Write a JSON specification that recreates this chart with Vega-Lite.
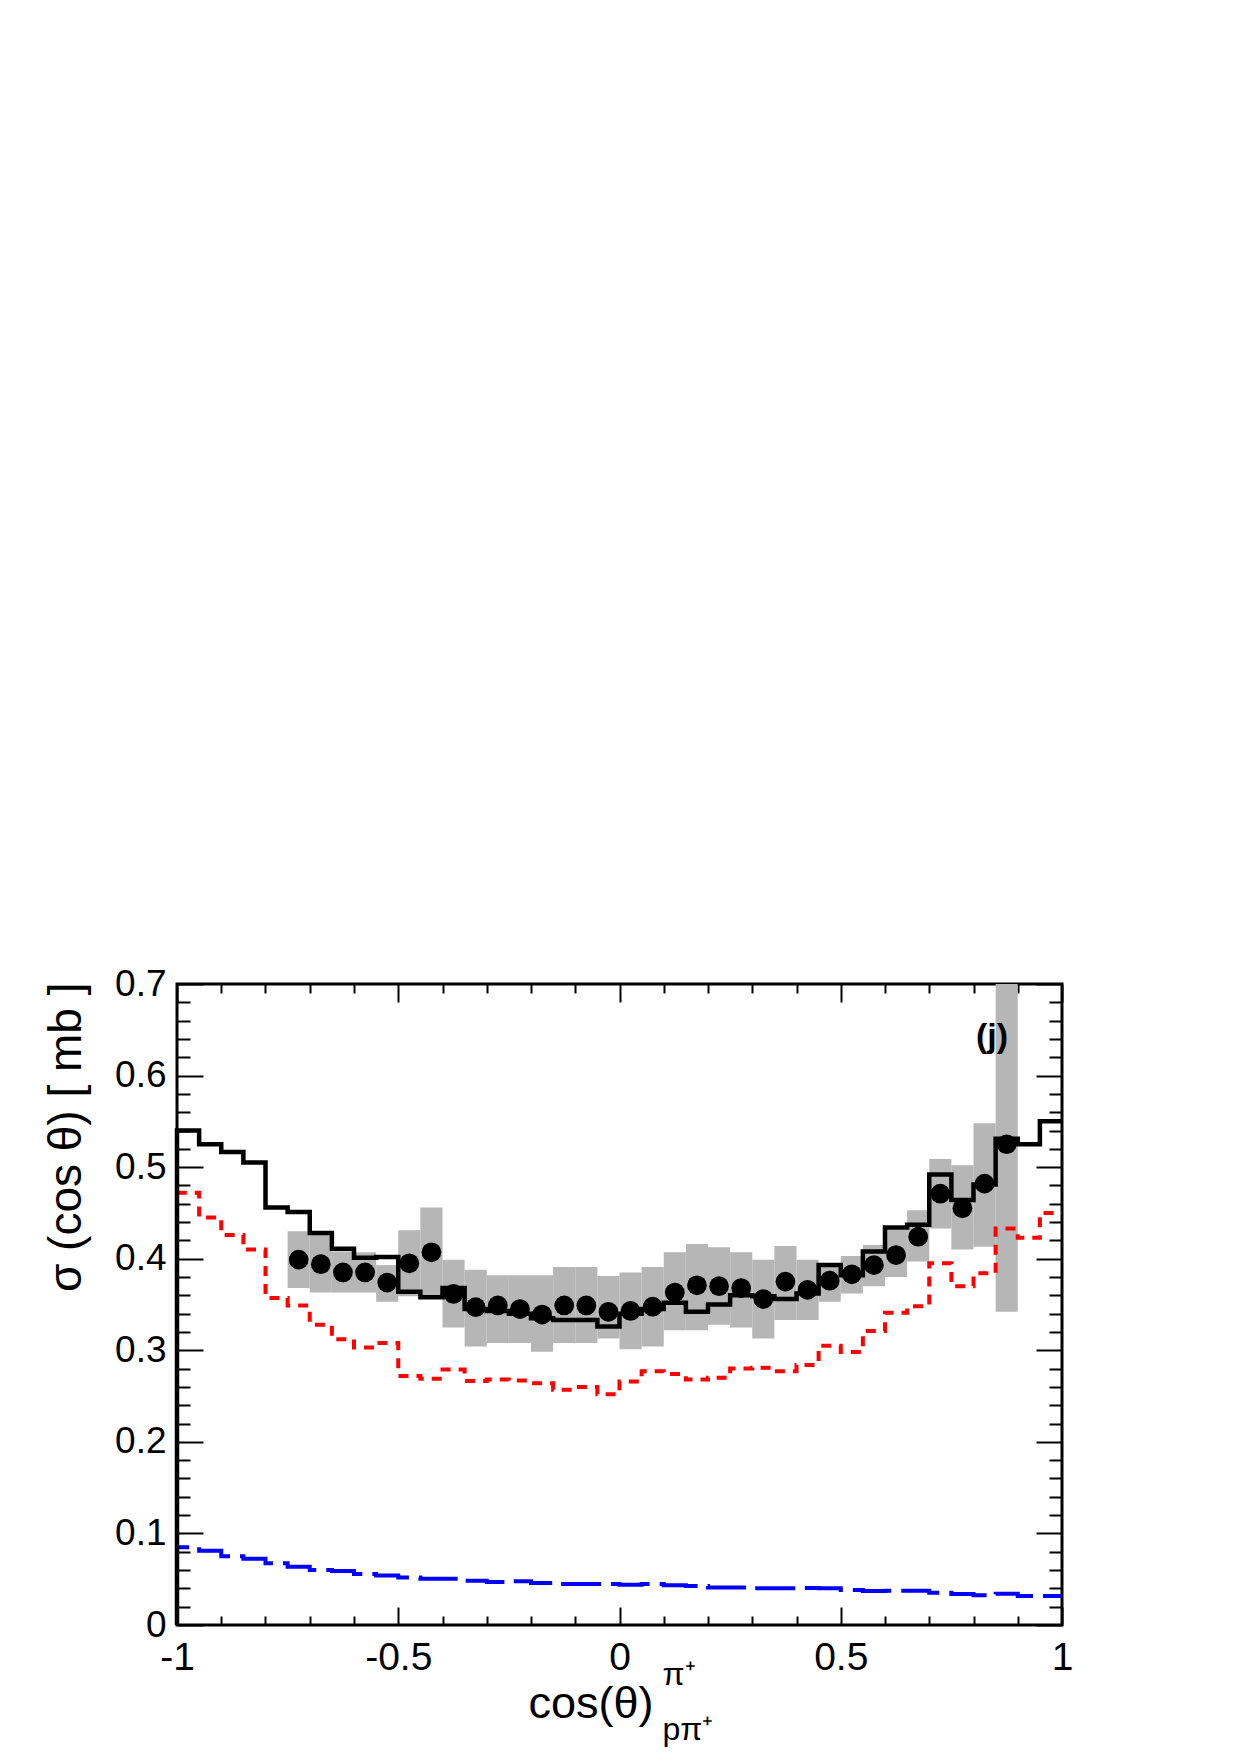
{
  "$schema": "https://vega.github.io/schema/vega-lite/v6.json",
  "width": 885,
  "height": 641,
  "autosize": {"type": "none"},
  "padding": {"left": 177, "top": 984, "right": 178, "bottom": 130},
  "background": "white",
  "config": {
    "view": {"stroke": "black", "strokeWidth": 3},
    "axis": {
      "labelFont": "Liberation Sans",
      "titleFont": "Liberation Sans",
      "labelColor": "black",
      "titleColor": "black",
      "titleFontWeight": "normal",
      "grid": false,
      "domain": false,
      "tickColor": "black",
      "tickWidth": 2,
      "labelBound": false,
      "labelOverlap": false,
      "labelFlush": false
    }
  },
  "datasets": {
    "band": [
      {"x1": -0.75, "x2": -0.7, "lo": 0.368, "hi": 0.43},
      {"x1": -0.7, "x2": -0.65, "lo": 0.363, "hi": 0.428},
      {"x1": -0.65, "x2": -0.6, "lo": 0.363, "hi": 0.408},
      {"x1": -0.6, "x2": -0.55, "lo": 0.363, "hi": 0.407},
      {"x1": -0.55, "x2": -0.5, "lo": 0.353, "hi": 0.393},
      {"x1": -0.5, "x2": -0.45, "lo": 0.359, "hi": 0.431},
      {"x1": -0.45, "x2": -0.4, "lo": 0.36, "hi": 0.456},
      {"x1": -0.4, "x2": -0.35, "lo": 0.325, "hi": 0.399},
      {"x1": -0.35, "x2": -0.3, "lo": 0.304, "hi": 0.388},
      {"x1": -0.3, "x2": -0.25, "lo": 0.308, "hi": 0.382},
      {"x1": -0.25, "x2": -0.2, "lo": 0.308, "hi": 0.382},
      {"x1": -0.2, "x2": -0.15, "lo": 0.2985, "hi": 0.382},
      {"x1": -0.15, "x2": -0.1, "lo": 0.308, "hi": 0.391},
      {"x1": -0.1, "x2": -0.05, "lo": 0.308, "hi": 0.391},
      {"x1": -0.05, "x2": 0.0, "lo": 0.313, "hi": 0.381},
      {"x1": 0.0, "x2": 0.05, "lo": 0.301, "hi": 0.385},
      {"x1": 0.05, "x2": 0.1, "lo": 0.304, "hi": 0.391},
      {"x1": 0.1, "x2": 0.15, "lo": 0.322, "hi": 0.407},
      {"x1": 0.15, "x2": 0.2, "lo": 0.322, "hi": 0.416},
      {"x1": 0.2, "x2": 0.25, "lo": 0.328, "hi": 0.4125},
      {"x1": 0.25, "x2": 0.3, "lo": 0.325, "hi": 0.407},
      {"x1": 0.3, "x2": 0.35, "lo": 0.313, "hi": 0.399},
      {"x1": 0.35, "x2": 0.4, "lo": 0.333, "hi": 0.414},
      {"x1": 0.4, "x2": 0.45, "lo": 0.333, "hi": 0.399},
      {"x1": 0.45, "x2": 0.5, "lo": 0.353, "hi": 0.393},
      {"x1": 0.5, "x2": 0.55, "lo": 0.362, "hi": 0.403},
      {"x1": 0.55, "x2": 0.6, "lo": 0.37, "hi": 0.415},
      {"x1": 0.6, "x2": 0.65, "lo": 0.38, "hi": 0.432},
      {"x1": 0.65, "x2": 0.7, "lo": 0.397, "hi": 0.453},
      {"x1": 0.7, "x2": 0.75, "lo": 0.433, "hi": 0.509},
      {"x1": 0.75, "x2": 0.8, "lo": 0.41, "hi": 0.502},
      {"x1": 0.8, "x2": 0.85, "lo": 0.413, "hi": 0.548},
      {"x1": 0.85, "x2": 0.9, "lo": 0.342, "hi": 0.7}
    ],
    "black": [
      {"x": -1, "y": 0, "i": 0},
      {"x": -1, "y": 0.54, "i": 1},
      {"x": -0.95, "y": 0.525, "i": 2},
      {"x": -0.9, "y": 0.5165, "i": 3},
      {"x": -0.85, "y": 0.505, "i": 4},
      {"x": -0.8, "y": 0.456, "i": 5},
      {"x": -0.75, "y": 0.451, "i": 6},
      {"x": -0.7, "y": 0.428, "i": 7},
      {"x": -0.65, "y": 0.411, "i": 8},
      {"x": -0.6, "y": 0.401, "i": 9},
      {"x": -0.55, "y": 0.402, "i": 10},
      {"x": -0.5, "y": 0.364, "i": 11},
      {"x": -0.45, "y": 0.358, "i": 12},
      {"x": -0.4, "y": 0.368, "i": 13},
      {"x": -0.35, "y": 0.345, "i": 14},
      {"x": -0.3, "y": 0.343, "i": 15},
      {"x": -0.25, "y": 0.34, "i": 16},
      {"x": -0.2, "y": 0.335, "i": 17},
      {"x": -0.15, "y": 0.333, "i": 18},
      {"x": -0.1, "y": 0.333, "i": 19},
      {"x": -0.05, "y": 0.326, "i": 20},
      {"x": 0, "y": 0.34, "i": 21},
      {"x": 0.05, "y": 0.345, "i": 22},
      {"x": 0.1, "y": 0.352, "i": 23},
      {"x": 0.15, "y": 0.342, "i": 24},
      {"x": 0.2, "y": 0.35, "i": 25},
      {"x": 0.25, "y": 0.36, "i": 26},
      {"x": 0.3, "y": 0.359, "i": 27},
      {"x": 0.35, "y": 0.356, "i": 28},
      {"x": 0.4, "y": 0.362, "i": 29},
      {"x": 0.45, "y": 0.393, "i": 30},
      {"x": 0.5, "y": 0.382, "i": 31},
      {"x": 0.55, "y": 0.408, "i": 32},
      {"x": 0.6, "y": 0.434, "i": 33},
      {"x": 0.65, "y": 0.437, "i": 34},
      {"x": 0.7, "y": 0.492, "i": 35},
      {"x": 0.75, "y": 0.464, "i": 36},
      {"x": 0.8, "y": 0.481, "i": 37},
      {"x": 0.85, "y": 0.531, "i": 38},
      {"x": 0.9, "y": 0.525, "i": 39},
      {"x": 0.95, "y": 0.55, "i": 40},
      {"x": 1, "y": 0.55, "i": 41}
    ],
    "red": [
      {"x": -1, "y": 0, "i": 0},
      {"x": -1, "y": 0.472, "i": 1},
      {"x": -0.95, "y": 0.445, "i": 2},
      {"x": -0.9, "y": 0.426, "i": 3},
      {"x": -0.85, "y": 0.41, "i": 4},
      {"x": -0.8, "y": 0.357, "i": 5},
      {"x": -0.75, "y": 0.349, "i": 6},
      {"x": -0.7, "y": 0.328, "i": 7},
      {"x": -0.65, "y": 0.312, "i": 8},
      {"x": -0.6, "y": 0.303, "i": 9},
      {"x": -0.55, "y": 0.308, "i": 10},
      {"x": -0.5, "y": 0.272, "i": 11},
      {"x": -0.45, "y": 0.269, "i": 12},
      {"x": -0.4, "y": 0.279, "i": 13},
      {"x": -0.35, "y": 0.2665, "i": 14},
      {"x": -0.3, "y": 0.268, "i": 15},
      {"x": -0.25, "y": 0.267, "i": 16},
      {"x": -0.2, "y": 0.264, "i": 17},
      {"x": -0.15, "y": 0.257, "i": 18},
      {"x": -0.1, "y": 0.26, "i": 19},
      {"x": -0.05, "y": 0.252, "i": 20},
      {"x": 0, "y": 0.266, "i": 21},
      {"x": 0.05, "y": 0.277, "i": 22},
      {"x": 0.1, "y": 0.274, "i": 23},
      {"x": 0.15, "y": 0.268, "i": 24},
      {"x": 0.2, "y": 0.27, "i": 25},
      {"x": 0.25, "y": 0.28, "i": 26},
      {"x": 0.3, "y": 0.281, "i": 27},
      {"x": 0.35, "y": 0.277, "i": 28},
      {"x": 0.4, "y": 0.284, "i": 29},
      {"x": 0.45, "y": 0.305, "i": 30},
      {"x": 0.5, "y": 0.298, "i": 31},
      {"x": 0.55, "y": 0.321, "i": 32},
      {"x": 0.6, "y": 0.341, "i": 33},
      {"x": 0.65, "y": 0.348, "i": 34},
      {"x": 0.7, "y": 0.395, "i": 35},
      {"x": 0.75, "y": 0.37, "i": 36},
      {"x": 0.8, "y": 0.384, "i": 37},
      {"x": 0.85, "y": 0.433, "i": 38},
      {"x": 0.9, "y": 0.423, "i": 39},
      {"x": 0.95, "y": 0.45, "i": 40},
      {"x": 1, "y": 0.45, "i": 41}
    ],
    "blue": [
      {"x": -1, "y": 0, "i": 0},
      {"x": -1, "y": 0.085, "i": 1},
      {"x": -0.95, "y": 0.081, "i": 2},
      {"x": -0.9, "y": 0.075, "i": 3},
      {"x": -0.85, "y": 0.0724, "i": 4},
      {"x": -0.8, "y": 0.0673, "i": 5},
      {"x": -0.75, "y": 0.0637, "i": 6},
      {"x": -0.7, "y": 0.06, "i": 7},
      {"x": -0.65, "y": 0.059, "i": 8},
      {"x": -0.6, "y": 0.0557, "i": 9},
      {"x": -0.55, "y": 0.054, "i": 10},
      {"x": -0.5, "y": 0.052, "i": 11},
      {"x": -0.45, "y": 0.0506, "i": 12},
      {"x": -0.4, "y": 0.0506, "i": 13},
      {"x": -0.35, "y": 0.0484, "i": 14},
      {"x": -0.3, "y": 0.047, "i": 15},
      {"x": -0.25, "y": 0.0477, "i": 16},
      {"x": -0.2, "y": 0.046, "i": 17},
      {"x": -0.15, "y": 0.0448, "i": 18},
      {"x": -0.1, "y": 0.0448, "i": 19},
      {"x": -0.05, "y": 0.0448, "i": 20},
      {"x": 0, "y": 0.044, "i": 21},
      {"x": 0.05, "y": 0.0448, "i": 22},
      {"x": 0.1, "y": 0.0433, "i": 23},
      {"x": 0.15, "y": 0.0426, "i": 24},
      {"x": 0.2, "y": 0.041, "i": 25},
      {"x": 0.25, "y": 0.041, "i": 26},
      {"x": 0.3, "y": 0.04, "i": 27},
      {"x": 0.35, "y": 0.04, "i": 28},
      {"x": 0.4, "y": 0.0404, "i": 29},
      {"x": 0.45, "y": 0.04, "i": 30},
      {"x": 0.5, "y": 0.0382, "i": 31},
      {"x": 0.55, "y": 0.037, "i": 32},
      {"x": 0.6, "y": 0.0375, "i": 33},
      {"x": 0.65, "y": 0.0375, "i": 34},
      {"x": 0.7, "y": 0.0353, "i": 35},
      {"x": 0.75, "y": 0.0339, "i": 36},
      {"x": 0.8, "y": 0.0324, "i": 37},
      {"x": 0.85, "y": 0.034, "i": 38},
      {"x": 0.9, "y": 0.0317, "i": 39},
      {"x": 0.95, "y": 0.0317, "i": 40},
      {"x": 1, "y": 0.0317, "i": 41}
    ],
    "points": [
      {"x": -0.725, "y": 0.399},
      {"x": -0.675, "y": 0.394},
      {"x": -0.625, "y": 0.385},
      {"x": -0.575, "y": 0.385},
      {"x": -0.525, "y": 0.374},
      {"x": -0.475, "y": 0.395},
      {"x": -0.425, "y": 0.407},
      {"x": -0.375, "y": 0.3615},
      {"x": -0.325, "y": 0.347},
      {"x": -0.275, "y": 0.349},
      {"x": -0.225, "y": 0.345},
      {"x": -0.175, "y": 0.339},
      {"x": -0.125, "y": 0.349},
      {"x": -0.075, "y": 0.349},
      {"x": -0.025, "y": 0.342},
      {"x": 0.025, "y": 0.343},
      {"x": 0.075, "y": 0.3476},
      {"x": 0.125, "y": 0.363},
      {"x": 0.175, "y": 0.371},
      {"x": 0.225, "y": 0.37},
      {"x": 0.275, "y": 0.368},
      {"x": 0.325, "y": 0.356},
      {"x": 0.375, "y": 0.375},
      {"x": 0.425, "y": 0.366},
      {"x": 0.475, "y": 0.376},
      {"x": 0.525, "y": 0.383},
      {"x": 0.575, "y": 0.393},
      {"x": 0.625, "y": 0.404},
      {"x": 0.675, "y": 0.424},
      {"x": 0.725, "y": 0.471},
      {"x": 0.775, "y": 0.455},
      {"x": 0.825, "y": 0.482},
      {"x": 0.875, "y": 0.525}
    ],
    "label": [
      {"x": 0.842, "y": 0.642, "text": "(j)"}
    ]
  },
  "resolve": {"axis": {"x": "independent", "y": "independent"}},
  "layer": [
    {
      "data": {"name": "band"},
      "mark": {"type": "rect", "fill": "#b6b6b6", "stroke": null},
      "encoding": {
        "x": {
          "field": "x1", "type": "quantitative",
          "scale": {"domain": [-1, 1], "nice": false, "zero": false},
          "axis": {
            "orient": "bottom", "values": [-1, -0.5, 0, 0.5, 1], "labelExpr": "'' + datum.value",
            "offset": -18, "tickSize": 18, "labelFontSize": 39, "labelPadding": 13,
            "title": "cos(θ)", "titleFontSize": 45, "titleX": 351, "titleY": 110,
            "titleAlign": "left", "titleBaseline": "alphabetic", "titleAnchor": null
          }
        },
        "x2": {"field": "x2"},
        "y": {
          "field": "lo", "type": "quantitative",
          "scale": {"domain": [0, 0.7], "nice": false, "zero": false},
          "axis": {
            "orient": "left", "values": [0, 0.1, 0.2, 0.3, 0.4, 0.5, 0.6, 0.7], "format": ".1~f",
            "offset": -26, "tickSize": 26, "labelFontSize": 37, "labelPadding": 11,
            "title": "σ (cos θ) [ mb ]", "titleFontSize": 46, "titleAngle": -90,
            "titleAlign": "right", "titleBaseline": "middle", "titleX": -137, "titleY": -2
          }
        },
        "y2": {"field": "hi"}
      }
    },
    {
      "data": {"name": "red"},
      "mark": {"type": "line", "color": "#ff0000", "strokeWidth": 4, "strokeDash": [10, 8], "interpolate": "step-after", "strokeCap": "butt"},
      "encoding": {
        "x": {
          "field": "x", "type": "quantitative",
          "axis": {
            "orient": "bottom", "values": [-0.9, -0.8, -0.7, -0.6, -0.4, -0.3, -0.2, -0.1, 0.1, 0.2, 0.3, 0.4, 0.6, 0.7, 0.8, 0.9],
            "offset": -9, "tickSize": 9, "labels": false,
            "title": "π⁺", "titleFontSize": 32, "titleX": 485, "titleY": 68,
            "titleAlign": "left", "titleBaseline": "alphabetic"
          }
        },
        "y": {
          "field": "y", "type": "quantitative",
          "axis": {
            "orient": "left",
            "values": [0.02, 0.04, 0.06, 0.08, 0.12, 0.14, 0.16, 0.18, 0.22, 0.24, 0.26, 0.28, 0.32, 0.34, 0.36, 0.38, 0.42, 0.44, 0.46, 0.48, 0.52, 0.54, 0.56, 0.58, 0.62, 0.64, 0.66, 0.68],
            "offset": -13, "tickSize": 13, "labels": false, "title": null
          }
        },
        "order": {"field": "i", "type": "quantitative"}
      }
    },
    {
      "data": {"name": "blue"},
      "mark": {"type": "line", "color": "#0000ff", "strokeWidth": 4, "strokeDash": [40, 10], "interpolate": "step-after", "strokeCap": "butt"},
      "encoding": {
        "x": {
          "field": "x", "type": "quantitative",
          "axis": {
            "orient": "top", "values": [-1, -0.5, 0, 0.5, 1],
            "offset": -18, "tickSize": 18, "labels": false,
            "title": "pπ⁺", "titleFontSize": 32, "titleX": 485, "titleY": 737,
            "titleAlign": "left", "titleBaseline": "alphabetic"
          }
        },
        "y": {
          "field": "y", "type": "quantitative",
          "axis": {
            "orient": "right", "values": [0, 0.1, 0.2, 0.3, 0.4, 0.5, 0.6, 0.7],
            "offset": -26, "tickSize": 26, "labels": false, "title": null
          }
        },
        "order": {"field": "i", "type": "quantitative"}
      }
    },
    {
      "data": {"name": "black"},
      "mark": {"type": "line", "color": "black", "strokeWidth": 4.5, "interpolate": "step-after", "strokeCap": "butt"},
      "encoding": {
        "x": {
          "field": "x", "type": "quantitative",
          "axis": {
            "orient": "top", "values": [-0.9, -0.8, -0.7, -0.6, -0.4, -0.3, -0.2, -0.1, 0.1, 0.2, 0.3, 0.4, 0.6, 0.7, 0.8, 0.9],
            "offset": -9, "tickSize": 9, "labels": false, "title": null
          }
        },
        "y": {
          "field": "y", "type": "quantitative",
          "axis": {
            "orient": "right",
            "values": [0.02, 0.04, 0.06, 0.08, 0.12, 0.14, 0.16, 0.18, 0.22, 0.24, 0.26, 0.28, 0.32, 0.34, 0.36, 0.38, 0.42, 0.44, 0.46, 0.48, 0.52, 0.54, 0.56, 0.58, 0.62, 0.64, 0.66, 0.68],
            "offset": -13, "tickSize": 13, "labels": false, "title": null
          }
        },
        "order": {"field": "i", "type": "quantitative"}
      }
    },
    {
      "data": {"name": "points"},
      "mark": {"type": "circle", "color": "black", "size": 390, "opacity": 1},
      "encoding": {
        "x": {"field": "x", "type": "quantitative", "axis": null},
        "y": {"field": "y", "type": "quantitative", "axis": null}
      }
    },
    {
      "data": {"name": "label"},
      "mark": {"type": "text", "font": "Liberation Sans", "fontWeight": "bold", "fontSize": 34, "align": "center", "baseline": "middle", "color": "black"},
      "encoding": {
        "x": {"field": "x", "type": "quantitative", "axis": null},
        "y": {"field": "y", "type": "quantitative", "axis": null},
        "text": {"field": "text"}
      }
    }
  ]
}
